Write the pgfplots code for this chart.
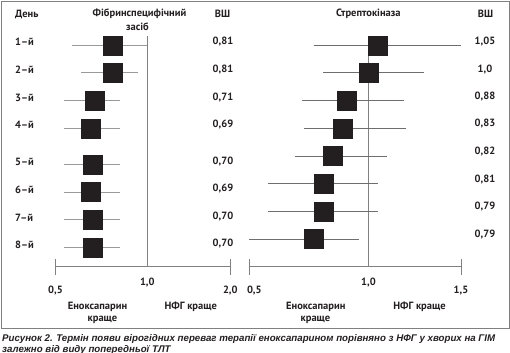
\documentclass[border=0pt]{standalone}
\usepackage{pgfplots}
\pgfplotsset{compat=1.18}
\usepackage{fontspec}
\setmainfont{PT Sans}
\newfontfamily\capfont{Liberation Sans}
\newcommand\cf{\fontsize{10.5bp}{12bp}\selectfont\bfseries}
\definecolor{sq}{HTML}{231F20}
\definecolor{cil}{HTML}{9A9A9A}
\definecolor{cir}{HTML}{6E6E6E}
\definecolor{ax}{HTML}{808080}
\pgfplotsset{
  forest/.style={
    scale only axis, clip=false, enlargelimits=false,
    height=249.3bp, ymin=0, ymax=9,
    axis y line=none, axis x line*=bottom,
    x axis line style={ax, line width=0.8bp, -},
    tick align=center, major tick length=16bp,
    every tick/.style={ax, line width=0.8bp},
    xticklabel style={font=\cf, text=sq, yshift=-8bp},
    ytick=\empty,
  },
  sqmark/.style={only marks, mark=square*, mark size=9.5bp,
    mark options={fill=sq, draw=sq, line width=0.1bp}},
}
\begin{document}
\begin{tikzpicture}
\useasboundingbox (0,0) rectangle (510bp,-353bp);
\draw[ax, line width=0.8bp] (1bp,-1bp) rectangle (509bp,-328bp);

% Left panel: fibrin-specific agent
\begin{axis}[forest, at={(55.5bp,-266.7bp)}, anchor=south west, width=174.8bp,
  xmin=0.5, xmax=2,
  x coord trafo/.code={\pgfmathparse{#1>1 ? 1+(#1-1)*0.452 : #1}},
  x coord inv trafo/.code={\pgfmathparse{#1>1 ? 1+(#1-1)/0.452 : #1}},
  xtick={0.5,2}, xticklabels={0{,}5,2{,}0},
  extra x ticks={1}, extra x tick labels={1{,}0},
  extra x tick style={major tick length=0pt},
]
\addplot[ax, line width=0.8bp] coordinates {(1,0) (1,8.32)};
\addplot[cil, line width=0.8bp] coordinates {(0.59,8) (1.0,8)};
\addplot[cil, line width=0.8bp] coordinates {(0.64,7) (0.95,7)};
\addplot[cil, line width=0.8bp] coordinates {(0.545,6) (0.85,6)};
\addplot[cil, line width=0.8bp] coordinates {(0.545,5) (0.85,5)};
\addplot[cil, line width=0.8bp] coordinates {(0.545,3.7) (0.85,3.7)};
\addplot[cil, line width=0.8bp] coordinates {(0.545,2.7) (0.85,2.7)};
\addplot[cil, line width=0.8bp] coordinates {(0.545,1.7) (0.85,1.7)};
\addplot[cil, line width=0.8bp] coordinates {(0.545,0.7) (0.85,0.7)};
\addplot[sqmark] coordinates {(0.81,8) (0.81,7) (0.71,6) (0.69,5) (0.70,3.7) (0.69,2.7) (0.70,1.7) (0.70,0.7)};
\end{axis}

% Right panel: streptokinase
\begin{axis}[forest, at={(249.3bp,-266.7bp)}, anchor=south west, width=211.7bp,
  xmin=0.5, xmax=1.5,
  x coord trafo/.code={\pgfmathparse{#1>1 ? 1+(#1-1)*0.776 : #1}},
  x coord inv trafo/.code={\pgfmathparse{#1>1 ? 1+(#1-1)/0.776 : #1}},
  xtick={0.5,1.5}, xticklabels={\hspace{10bp}0{,}5,1{,}5},
  extra x ticks={1}, extra x tick labels={1{,}0},
  extra x tick style={major tick length=0pt},
]
\addplot[ax, line width=0.8bp] coordinates {(1,0) (1,8)};
\addplot[cir, line width=0.8bp] coordinates {(0.77,8) (1.50,8)};
\addplot[cir, line width=0.8bp] coordinates {(0.81,7) (1.30,7)};
\addplot[cir, line width=0.8bp] coordinates {(0.72,6) (1.19,6)};
\addplot[cir, line width=0.8bp] coordinates {(0.73,5) (1.20,5)};
\addplot[cir, line width=0.8bp] coordinates {(0.69,4) (1.10,4)};
\addplot[cir, line width=0.8bp] coordinates {(0.58,3) (1.05,3)};
\addplot[cir, line width=0.8bp] coordinates {(0.58,2) (1.05,2)};
\addplot[cir, line width=0.8bp] coordinates {(0.50,1) (0.96,1)};
\addplot[sqmark] coordinates {(1.05,8) (1.0,7) (0.91,6) (0.89,5) (0.85,4) (0.81,3) (0.81,2) (0.77,1)};
\end{axis}

\begin{scope}[x=1bp, y=-1bp, every node/.style={font=\cf, text=sq, inner sep=0pt}]
\node[anchor=west] at (15,14) {День};
\node at (139.5,14) {Фібринспецифічний};
\node at (137.5,26.5) {засіб};
\node at (222.5,14) {ВШ};
\node at (368.3,14) {Стрептокіназа};
\node at (485.5,14) {ВШ};
\foreach \t/\y in {1/41.7, 2/70, 3/97.7, 4/125, 5/161.7, 6/190, 7/217.7, 8/245}
  \node[anchor=west] at (15,\y) {\t–й};
\foreach \v/\y in {{0,81}/41.7, {0,81}/69.3, {0,71}/97.7, {0,69}/125, {0,70}/161.7, {0,69}/188.3, {0,70}/216.7, {0,70}/244}
  \node at (223,\y) {\v};
\foreach \v/\y in {{1,05}/41.7, {1,0}/69.3, {0,88}/96.7, {0,83}/124, {0,82}/151.7, {0,81}/180, {0,79}/206.7, {0,79}/234.3}
  \node at (485,\y) {\v};
\node at (97.5,306.7) {Еноксапарин};
\node at (102.5,320) {краще};
\node at (190.7,306.7) {НФГ краще};
\node at (315.8,306.7) {Еноксапарин};
\node at (315.5,320) {краще};
\node at (419.5,306.7) {НФГ краще};
\node[anchor=west, font=\capfont\bfseries\itshape\fontsize{9.7bp}{11bp}\selectfont] at (2,339)
  {Рисунок 2. Термін появи вірогідних переваг терапії еноксапарином порівняно з НФГ у хворих на ГІМ};
\node[anchor=west, font=\capfont\bfseries\itshape\fontsize{9.7bp}{11bp}\selectfont] at (2,349.6)
  {залежно від виду попередньої ТЛТ};
\end{scope}
\end{tikzpicture}
\end{document}
